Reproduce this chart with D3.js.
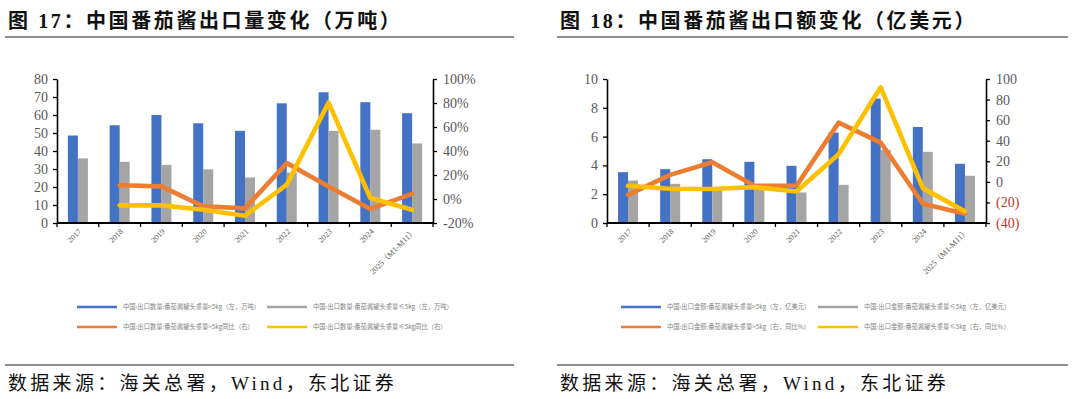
<!DOCTYPE html>
<html><head><meta charset="utf-8">
<script src="https://cdn.jsdelivr.net/npm/d3@7"></script>
<style>
body{margin:0;background:#fff;}
svg{display:block;}
</style></head>
<body>
<svg id="c" width="1080" height="399"></svg>
<script>
const years = ["2017","2018","2019","2020","2021","2022","2023","2024","2025（M1-M11）"];
// Chart 17: export volume (万吨) and YoY (%)
const qtyAbove5 = [48.6, 54.3, 60.0, 55.4, 51.2, 66.5, 72.6, 67.1, 61.0];
const qtyBelow5 = [35.9, 34.0, 32.3, 29.8, 25.3, 28.0, 51.2, 51.8, 44.2];
const qtyAboveYoY = [null, 11.4, 10.5, -6.1, -7.8, 29.9, 10.5, -8.3, 4.2];
const qtyBelowYoY = [null, -5.3, -5.3, -8.9, -13.9, 11.9, 80.3, 0.8, -8.9];
const qtyLeftTicks = [0,10,20,30,40,50,60,70,80];
const qtyRightTicks = [-20,0,20,40,60,80,100];
// Chart 18: export value (亿美元) and YoY (%)
const valAbove5 = [3.53, 3.74, 4.43, 4.25, 3.97, 6.28, 8.64, 6.67, 4.11];
const valBelow5 = [2.95, 2.72, 2.30, 2.50, 2.12, 2.65, 5.08, 4.94, 3.28];
const valAboveYoY = [-12.6, 6.8, 19.1, -3.8, -3.8, 57.6, 38.2, -21.3, -31.0];
const valBelowYoY = [-3.8, -6.7, -7.0, -5.1, -9.3, 26.9, 91.9, -6.1, -28.7];
const valLeftTicks = [0,2,4,6,8,10];
const valRightTicks = [-40,-20,0,20,40,60,80,100];

const legend17 = ["中国:出口数量:番茄酱罐头重量>5kg（左，万吨）","中国:出口数量:番茄酱罐头重量≤5kg（左，万吨）","中国:出口数量:番茄酱罐头重量>5kg同比（右）","中国:出口数量:番茄酱罐头重量≤5kg同比（右）"];
const legend18 = ["中国:出口金额:番茄酱罐头重量>5kg（左，亿美元）","中国:出口金额:番茄酱罐头重量≤5kg（左，亿美元）","中国:出口金额:番茄酱罐头重量>5kg（右，同比%）","中国:出口金额:番茄酱罐头重量≤5kg（右，同比%）"];

const COLORS = ["#4472C4","#A5A5A5","#ED7D31","#FFC000"];
const SERIF = "'Liberation Serif','DejaVu Serif','Noto Sans CJK SC',serif";
const svg = d3.select("#c");

function header(x0, x1, title){
  svg.append("text").attr("x", x0+3).attr("y", 28).text(title)
    .attr("font-family", SERIF).attr("font-weight","bold").attr("font-size", 20)
    .attr("letter-spacing", 2.6).attr("fill","#111");
  svg.append("line").attr("x1",x0).attr("x2",x1).attr("y1",37).attr("y2",37)
    .attr("stroke","#222").attr("stroke-width",1.2);
  svg.append("line").attr("x1",x0).attr("x2",x1).attr("y1",365).attr("y2",365)
    .attr("stroke","#222").attr("stroke-width",1.2);
  svg.append("text").attr("x", x0+3).attr("y", 390).text("数据来源：海关总署，Wind，东北证券")
    .attr("font-family", SERIF).attr("font-size", 19).attr("letter-spacing", 3.3).attr("fill","#111");
}

function chart(o){
  const g = svg.append("g");
  const x = d3.scaleBand().domain(years).range([o.x0, o.x1]).paddingInner(0).paddingOuter(0);
  const yL = d3.scaleLinear().domain(o.lDom).range([223, 79]);
  const yR = d3.scaleLinear().domain(o.rDom).range([223, 79]);
  const bw = 10;
  // bars
  years.forEach((yr,i)=>{
    const cx = x(yr) + x.bandwidth()/2;
    g.append("rect").attr("x", cx-bw).attr("width", bw)
      .attr("y", yL(o.b1[i])).attr("height", yL(0)-yL(o.b1[i])).attr("fill", COLORS[0]);
    g.append("rect").attr("x", cx).attr("width", bw)
      .attr("y", yL(o.b2[i])).attr("height", yL(0)-yL(o.b2[i])).attr("fill", COLORS[1]);
  });
  // lines
  const line = d3.line().defined(d=>d.v!=null)
    .x(d=>x(d.k)+x.bandwidth()/2).y(d=>yR(d.v));
  [[o.l1,COLORS[2]],[o.l2,COLORS[3]]].forEach(([arr,col])=>{
    g.append("path").datum(years.map((k,i)=>({k, v:arr[i]})))
      .attr("d", line).attr("fill","none").attr("stroke",col)
      .attr("stroke-width",4.6).attr("stroke-linejoin","round").attr("stroke-linecap","round");
  });
  // left axis
  const ax = g.append("g").attr("transform",`translate(${o.x0},0)`)
    .call(d3.axisLeft(yL).tickValues(o.lTicks).tickSize(4).tickSizeOuter(0).tickFormat(o.lFmt).tickPadding(5));
  ax.select(".domain").attr("stroke","#000").attr("stroke-width",1.6);
  ax.selectAll(".tick line").attr("stroke","#000").attr("stroke-width",1.3);
  ax.selectAll("text").attr("font-family",SERIF).attr("font-size",14).attr("fill","#595959");
  // right axis
  const ar = g.append("g").attr("transform",`translate(${o.x1},0)`)
    .call(d3.axisRight(yR).tickValues(o.rTicks).tickSize(4).tickSizeOuter(0).tickFormat(o.rFmt).tickPadding(6));
  ar.select(".domain").attr("stroke","#000").attr("stroke-width",1.6);
  ar.selectAll(".tick line").attr("stroke","#000").attr("stroke-width",1.3);
  ar.selectAll("text").attr("font-family",SERIF).attr("font-size",14)
    .attr("fill", d=> (o.redNeg && d<0) ? "#C0392B" : "#595959");
  // x axis
  g.append("line").attr("x1",o.x0).attr("x2",o.x1).attr("y1",yL(0)).attr("y2",yL(0))
    .attr("stroke","#000").attr("stroke-width",1.8);
  const edges = years.map(k=>x(k)).concat([o.x1]);
  edges.forEach(ex=>{
    g.append("line").attr("x1",ex).attr("x2",ex).attr("y1",yL(0)).attr("y2",yL(0)+4)
      .attr("stroke","#000").attr("stroke-width",1.3);
  });
  years.forEach(k=>{
    const cx = x(k)+x.bandwidth()/2+4, cy = yL(0)+9;
    g.append("text").attr("transform",`translate(${cx},${cy}) rotate(-45)`)
      .attr("text-anchor","end").attr("font-family",SERIF).attr("font-size",8)
      .attr("fill","#595959").text(k);
  });
  // legend
  const lx = [o.legX, o.legX+o.legCol];
  o.legend.forEach((t,i)=>{
    const lxx = lx[i%2], ly = i<2 ? 307 : 327;
    g.append("line").attr("x1",lxx).attr("x2",lxx+40).attr("y1",ly).attr("y2",ly)
      .attr("stroke",COLORS[i]).attr("stroke-width",2.6);
    g.append("text").attr("x",lxx+46).attr("y",ly+2.3).text(t)
      .attr("font-family","'Noto Sans CJK SC',sans-serif").attr("font-size",6.3).attr("fill","#7f7f7f");
  });
}

header(5, 514, "图 17：中国番茄酱出口量变化（万吨）");
header(557, 1068, "图 18：中国番茄酱出口额变化（亿美元）");

chart({x0:57, x1:433, lDom:[0,80], rDom:[-20,100], lTicks:qtyLeftTicks, rTicks:qtyRightTicks,
  lFmt:d=>d, rFmt:d=>d+"%", redNeg:false,
  b1:qtyAbove5, b2:qtyBelow5, l1:qtyAboveYoY, l2:qtyBelowYoY,
  legend:legend17, legX:77, legCol:190});
chart({x0:607, x1:986, lDom:[0,10], rDom:[-40,100], lTicks:valLeftTicks, rTicks:valRightTicks,
  lFmt:d=>d, rFmt:d=> d<0 ? "("+(-d)+")" : d, redNeg:true,
  b1:valAbove5, b2:valBelow5, l1:valAboveYoY, l2:valBelowYoY,
  legend:legend18, legX:621, legCol:197});
</script>
</body></html>
